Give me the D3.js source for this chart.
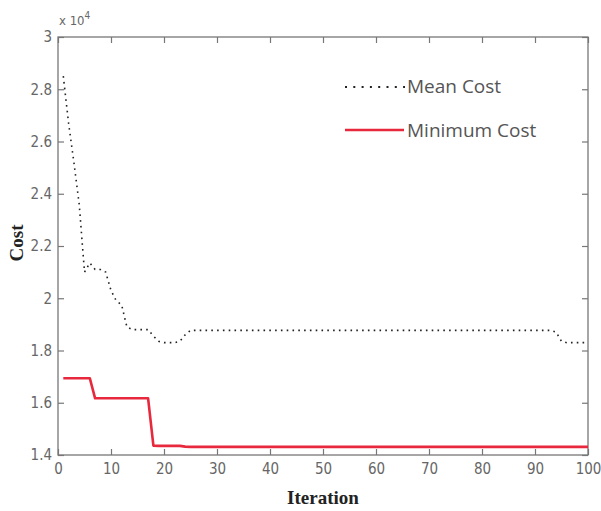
<!DOCTYPE html>
<html>
<head>
<meta charset="utf-8">
<script src="https://cdn.jsdelivr.net/npm/d3@7"></script>
<style>
  html, body { margin: 0; padding: 0; background: #fff; }
  svg { display: block; }
</style>
</head>
<body>
<script>
// ---- data (values in units of 10^4) ----
const iterations = d3.range(1, 101);
const meanCost = [
  2.85, 2.67, 2.52, 2.36, 2.10, 2.135, 2.11, 2.11, 2.10, 2.03,
  1.99, 1.975, 1.89, 1.88, 1.88, 1.88, 1.88, 1.855, 1.835, 1.83,
  1.83, 1.83, 1.835, 1.86, 1.877, 1.877, 1.877, 1.877, 1.877, 1.877,
  1.877, 1.877, 1.877, 1.877, 1.877, 1.877, 1.877, 1.877, 1.877, 1.877,
  1.877, 1.877, 1.877, 1.877, 1.877, 1.877, 1.877, 1.877, 1.877, 1.877,
  1.877, 1.877, 1.877, 1.877, 1.877, 1.877, 1.877, 1.877, 1.877, 1.877,
  1.877, 1.877, 1.877, 1.877, 1.877, 1.877, 1.877, 1.877, 1.877, 1.877,
  1.877, 1.877, 1.877, 1.877, 1.877, 1.877, 1.877, 1.877, 1.877, 1.877,
  1.877, 1.877, 1.877, 1.877, 1.877, 1.877, 1.877, 1.877, 1.877, 1.877,
  1.877, 1.877, 1.877, 1.87, 1.835, 1.83, 1.83, 1.83, 1.83, 1.83
];
const minCost = [
  1.694, 1.694, 1.694, 1.694, 1.694, 1.694, 1.617, 1.617, 1.617, 1.617,
  1.617, 1.617, 1.617, 1.617, 1.617, 1.617, 1.617, 1.436, 1.435, 1.435,
  1.435, 1.435, 1.435, 1.432, 1.431, 1.431, 1.431, 1.431, 1.431, 1.431,
  1.431, 1.431, 1.431, 1.431, 1.431, 1.431, 1.431, 1.431, 1.431, 1.431,
  1.431, 1.431, 1.431, 1.431, 1.431, 1.431, 1.431, 1.431, 1.431, 1.431,
  1.431, 1.431, 1.431, 1.431, 1.431, 1.431, 1.431, 1.431, 1.431, 1.431,
  1.431, 1.431, 1.431, 1.431, 1.431, 1.431, 1.431, 1.431, 1.431, 1.431,
  1.431, 1.431, 1.431, 1.431, 1.431, 1.431, 1.431, 1.431, 1.431, 1.431,
  1.431, 1.431, 1.431, 1.431, 1.431, 1.431, 1.431, 1.431, 1.431, 1.431,
  1.431, 1.431, 1.431, 1.431, 1.431, 1.431, 1.431, 1.431, 1.431, 1.431
];
const xTicks = [0, 10, 20, 30, 40, 50, 60, 70, 80, 90, 100];
const yTicks = [1.4, 1.6, 1.8, 2.0, 2.2, 2.4, 2.6, 2.8, 3.0];
const yTickLabels = ["1.4", "1.6", "1.8", "2", "2.2", "2.4", "2.6", "2.8", "3"];
const seriesNames = ["Mean Cost", "Minimum Cost"];

// ---- layout ----
const W = 601, H = 511;
const L = 58, R = 588, T = 37, B = 455;

const svg = d3.select("body").append("svg").attr("width", W).attr("height", H);

const x = d3.scaleLinear().domain([0, 100]).range([L, R]);
const y = d3.scaleLinear().domain([1.4, 3.0]).range([B, T]);

const axisColor = "#777";
const labelColor = "#666";
const tickFont = "'DejaVu Sans Condensed', 'Liberation Sans Narrow', 'Liberation Sans', sans-serif";

// frame
svg.append("rect").attr("x", L).attr("y", T).attr("width", R - L).attr("height", B - T)
  .attr("fill", "none").attr("stroke", axisColor).attr("stroke-width", 1.3);

function styleAxis(g) {
  g.select(".domain").remove();
  g.selectAll(".tick line").attr("stroke", axisColor).attr("stroke-width", 1.2);
  g.selectAll(".tick text").attr("fill", labelColor)
    .attr("font-family", tickFont).attr("font-size", 15);
}

// bottom axis (ticks inward)
svg.append("g").attr("transform", `translate(0,${B})`)
  .call(d3.axisBottom(x).tickValues(xTicks).tickSizeInner(-6).tickSizeOuter(0).tickPadding(8).tickFormat(d3.format("d")))
  .call(styleAxis);
// top axis ticks
svg.append("g").attr("transform", `translate(0,${T})`)
  .call(d3.axisTop(x).tickValues(xTicks).tickSizeInner(-6).tickSizeOuter(0).tickFormat(""))
  .call(styleAxis);
// left axis
svg.append("g").attr("transform", `translate(${L},0)`)
  .call(d3.axisLeft(y).tickValues(yTicks).tickSizeInner(-6).tickSizeOuter(0).tickPadding(6)
    .tickFormat((d, i) => yTickLabels[i]))
  .call(styleAxis);
// right axis ticks
svg.append("g").attr("transform", `translate(${R},0)`)
  .call(d3.axisRight(y).tickValues(yTicks).tickSizeInner(-6).tickSizeOuter(0).tickFormat(""))
  .call(styleAxis);

// exponent label
const ex = svg.append("text").attr("x", L + 1).attr("y", 25)
  .attr("fill", labelColor).attr("font-family", tickFont).attr("font-size", 13);
ex.append("tspan").text("x 10");
ex.append("tspan").attr("dy", -6).attr("font-size", 10).text("4");

// lines
const line = d3.line().x((d, i) => x(iterations[i])).y(d => y(d));

svg.append("path").datum(minCost).attr("d", line)
  .attr("fill", "none").attr("stroke", "#e8283c").attr("stroke-width", 2.6)
  .attr("stroke-linejoin", "round");

svg.append("path").datum(meanCost).attr("d", line)
  .attr("fill", "none").attr("stroke", "#222").attr("stroke-width", 1.6)
  .attr("stroke-dasharray", "1.6,4.2");

// legend
const legendFont = "'Open Sans', 'Noto Sans', sans-serif";
svg.append("line").attr("x1", 345).attr("x2", 405).attr("y1", 87).attr("y2", 87)
  .attr("stroke", "#222").attr("stroke-width", 2).attr("stroke-dasharray", "2,6.3");
svg.append("text").attr("x", 407).attr("y", 93).text(seriesNames[0])
  .attr("fill", "#555").attr("font-family", legendFont).attr("font-size", 19);
svg.append("line").attr("x1", 345).attr("x2", 404).attr("y1", 130).attr("y2", 130)
  .attr("stroke", "#e8283c").attr("stroke-width", 2.6);
svg.append("text").attr("x", 407).attr("y", 137).text(seriesNames[1])
  .attr("fill", "#555").attr("font-family", legendFont).attr("font-size", 19);

// axis titles
svg.append("text").attr("x", (L + R) / 2).attr("y", 504).attr("text-anchor", "middle")
  .attr("font-family", "'Liberation Serif', 'DejaVu Serif', serif").attr("font-weight", "bold")
  .attr("font-size", 19).attr("fill", "#222").text("Iteration");
svg.append("text").attr("transform", "translate(23,243) rotate(-90)").attr("text-anchor", "middle")
  .attr("font-family", "'Liberation Serif', 'DejaVu Serif', serif").attr("font-weight", "bold")
  .attr("font-size", 19).attr("fill", "#222").text("Cost");
</script>
</body>
</html>
